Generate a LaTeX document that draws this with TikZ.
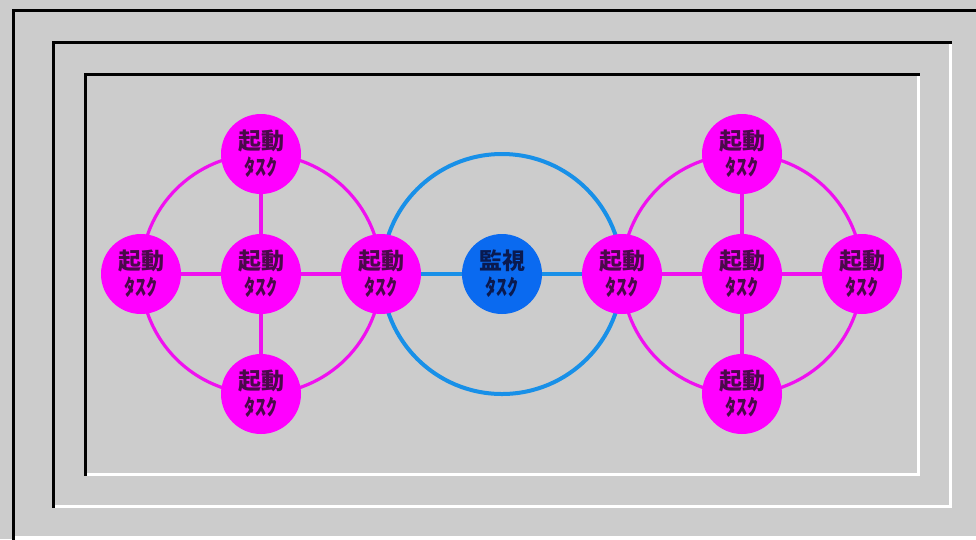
\documentclass[tikz,border=0pt]{standalone}
\usepackage{fontspec}
\newfontfamily\jp{Noto Sans CJK JP}
\definecolor{panel}{HTML}{CCCCCC}
\definecolor{startfill}{HTML}{FF00FF}
\definecolor{startline}{HTML}{F010F0}
\definecolor{starttext}{HTML}{4A0A4A}
\definecolor{watchfill}{HTML}{0A6AF0}
\definecolor{watchline}{HTML}{1890E8}
\definecolor{watchtext}{HTML}{0A1A50}
\pgfdeclarelayer{bg}
\pgfdeclarelayer{links}
\pgfsetlayers{bg,links,main}
\tikzset{
  taskbase/.style={circle, minimum size=80, inner sep=0pt, align=center,
    font=\jp\bfseries\fontsize{23}{26}\selectfont},
  starttask/.style={taskbase, fill=startfill, text=starttext},
  watchtask/.style={taskbase, fill=watchfill, text=watchtext},
  pinklink/.style={draw=startline, line width=3.2},
  bluelink/.style={draw=watchline, line width=4},
  darkedge/.style={draw=black, line width=3, line cap=rect},
  lightedge/.style={draw=white, line width=3, line cap=rect},
}
\newcommand{\starttext}{起動\\[0pt]{\fontsize{22}{24}\selectfont ﾀｽｸ}}
\newcommand{\watchtext}{監視\\[0pt]{\fontsize{22}{24}\selectfont ﾀｽｸ}}
\begin{document}
\begin{tikzpicture}[x=1pt,y=-1pt]
\useasboundingbox (0,0) rectangle (976,539);

% grey panel with three bevelled frames
\begin{pgfonlayer}{bg}
  \fill[panel] (0,0) rectangle (976,539);
  \draw[lightedge] (13,537) -- (976,537);
  \draw[darkedge] (13,539) -- (13,10) -- (978,10);
  \draw[lightedge] (53,506) -- (950,506) -- (950,42);
  \draw[darkedge] (53,506) -- (53,42) -- (950,42);
  \draw[lightedge] (85,474) -- (918,474) -- (918,74);
  \draw[darkedge] (85,474) -- (85,74) -- (918,74);
\end{pgfonlayer}

% left group of start tasks
\node[starttask] (lt) at (261,154) {\starttext};
\node[starttask] (ll) at (141,274) {\starttext};
\node[starttask] (lc) at (261,274) {\starttext};
\node[starttask] (lr) at (381,274) {\starttext};
\node[starttask] (lb) at (261,394) {\starttext};

% monitor task
\node[watchtask] (m) at (502,274) {\watchtext};

% right group of start tasks
\node[starttask] (rt) at (742,154) {\starttext};
\node[starttask] (rl) at (622,274) {\starttext};
\node[starttask] (rc) at (742,274) {\starttext};
\node[starttask] (rr) at (862,274) {\starttext};
\node[starttask] (rb) at (742,394) {\starttext};

\begin{pgfonlayer}{links}
  \draw[pinklink] (lc.center) circle [radius=120];
  \draw[pinklink] (lc) -- (lt) (lc) -- (ll) (lc) -- (lr) (lc) -- (lb);
  \draw[pinklink] (rc.center) circle [radius=120];
  \draw[pinklink] (rc) -- (rt) (rc) -- (rl) (rc) -- (rr) (rc) -- (rb);
  \draw[bluelink] (m.center) circle [radius=120];
  \draw[bluelink] (lr) -- (m) -- (rl);
\end{pgfonlayer}
\end{tikzpicture}
\end{document}
